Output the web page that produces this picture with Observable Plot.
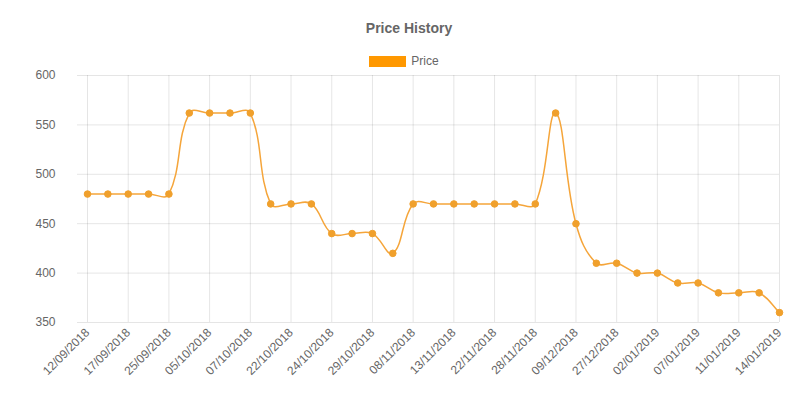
<!DOCTYPE html>
<html>
<head>
<meta charset="utf-8">
<script src="https://cdn.jsdelivr.net/npm/d3@7"></script>
<script src="https://cdn.jsdelivr.net/npm/@observablehq/plot@0.6"></script>
<style>
  html, body { margin: 0; padding: 0; background: #fff; }
  body { width: 800px; height: 402px; overflow: hidden; font-family: "Liberation Sans", Arial, Helvetica, sans-serif; color: #666; }
  #header { height: 70px; position: relative; }
  #title { position: absolute; top: 20px; left: 9px; width: 800px; text-align: center; font-weight: bold; font-size: 14px; line-height: 16px; color: #666; }
  #legend { position: absolute; top: 54px; left: 0; width: 808px; height: 14px; display: flex; justify-content: center; align-items: center; font-size: 12px; color: #666; }
  #legend .box { width: 37px; height: 11px; background: #ff9800; margin-right: 5px; }
</style>
</head>
<body>
<div id="header">
  <div id="title">Price History</div>
  <div id="legend"><span class="box"></span><span>Price</span></div>
</div>
<div id="chart"></div>
<script>
// Shown tick labels (every other point is labelled)
const xLabels = [
  "12/09/2018", "17/09/2018", "25/09/2018", "05/10/2018", "07/10/2018", "22/10/2018",
  "24/10/2018", "29/10/2018", "08/11/2018", "13/11/2018", "22/11/2018", "28/11/2018",
  "09/12/2018", "27/12/2018", "02/01/2019", "07/01/2019", "11/01/2019", "14/01/2019"
];
// Price per point, in order
const prices = [
  480, 480, 480, 480, 480, 562, 562, 562, 562, 470,
  470, 470, 440, 440, 440, 420, 470, 470, 470, 470,
  470, 470, 470, 562, 450, 410, 410, 400, 400, 390,
  390, 380, 380, 380, 360
];
const yTicks = [350, 400, 450, 500, 550, 600];

const data = prices.map((v, i) => ({i, v}));
const xTicks = xLabels.map((_, k) => k * 2);

// Chart.js-style bezier spline (tension 0.4)
function chartjsCurve(context) {
  let pts;
  return {
    areaStart() {}, areaEnd() {},
    lineStart() { pts = []; },
    point(x, y) { pts.push([+x, +y]); },
    lineEnd() {
      const n = pts.length; if (!n) return;
      const t = 0.4;
      const cps = pts.map((p, i) => {
        const prev = pts[Math.max(0, i - 1)], next = pts[Math.min(n - 1, i + 1)];
        const d01 = Math.hypot(p[0] - prev[0], p[1] - prev[1]);
        const d12 = Math.hypot(next[0] - p[0], next[1] - p[1]);
        let s01 = d01 / (d01 + d12), s12 = d12 / (d01 + d12);
        if (!isFinite(s01)) s01 = 0;
        if (!isFinite(s12)) s12 = 0;
        const fa = t * s01, fb = t * s12;
        return {
          px: p[0] - fa * (next[0] - prev[0]), py: p[1] - fa * (next[1] - prev[1]),
          nx: p[0] + fb * (next[0] - prev[0]), ny: p[1] + fb * (next[1] - prev[1])
        };
      });
      context.moveTo(pts[0][0], pts[0][1]);
      for (let i = 1; i < n; i++) {
        context.bezierCurveTo(cps[i - 1].nx, cps[i - 1].ny, cps[i].px, cps[i].py, pts[i][0], pts[i][1]);
      }
    }
  };
}

const chart = Plot.plot({
  width: 800,
  height: 332,
  marginTop: 5,
  marginBottom: 80,
  marginLeft: 87,
  marginRight: 21,
  style: {fontFamily: "'Liberation Sans', Arial, Helvetica, sans-serif", fontSize: "12px", color: "#666", background: "#fff", overflow: "visible"},
  x: {type: "linear", domain: [0, prices.length - 1]},
  y: {domain: [350, 600]},
  marks: [
    Plot.gridX(xTicks, {stroke: "#000", strokeOpacity: 0.1, strokeWidth: 1}),
    Plot.gridY(yTicks, {stroke: "#000", strokeOpacity: 0.1, strokeWidth: 1}),
    Plot.axisY(yTicks, {tickSize: 10, tickPadding: 22, stroke: "#000", strokeOpacity: 0.1, fill: "#666", label: null}),
    Plot.axisX(xTicks, {tickSize: 0, tickPadding: 8, tickRotate: -45, tickFormat: i => xLabels[i / 2], fill: "#666", label: null}),
    Plot.line(data, {x: "i", y: "v", stroke: "#f5a53a", strokeWidth: 1.5, curve: chartjsCurve}),
    Plot.dot(data, {x: "i", y: "v", r: 3.3, fill: "#f0a02c", stroke: "#f0a02c", strokeWidth: 1})
  ]
});
document.getElementById("chart").appendChild(chart);
</script>
</body>
</html>
